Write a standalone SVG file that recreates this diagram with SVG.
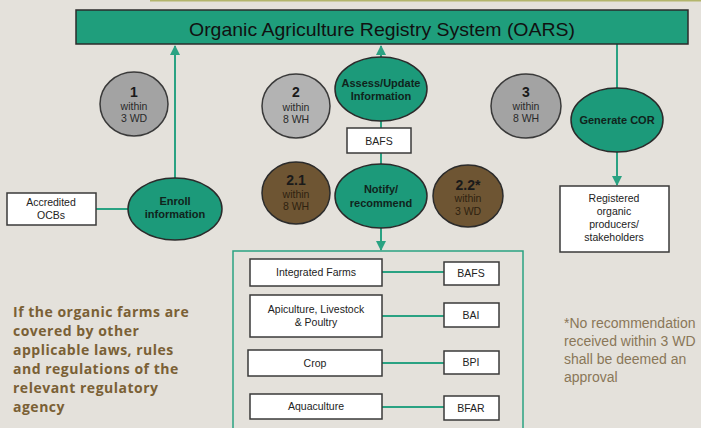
<svg xmlns="http://www.w3.org/2000/svg" width="701" height="428" viewBox="0 0 701 428">
<style>
.t{font-family:"Liberation Sans",Arial,sans-serif;text-anchor:middle}
.ell{fill:#1c9a7a;stroke:#2b2b2b;stroke-width:1.5}
.gray{fill:#a3a3a3;stroke:#3a3a3a;stroke-width:1.5}
.brown{fill:#6e5533;stroke:#2b2b2b;stroke-width:1.5}
.box{fill:#ffffff;stroke:#3a3a3a;stroke-width:1.5}
.ln{stroke:#2aa282;stroke-width:2;fill:none}
.et{font-size:11px;font-weight:bold;fill:#10241c}
.bt{font-size:10.5px;fill:#222}
.num{font-size:14px;font-weight:bold;fill:#1a1a1a}
.sm{font-size:10.5px;fill:#2a2a2a}
.bsm{font-size:10.5px;fill:#2e2210}
</style>
<defs>
<marker id="ah" viewBox="0 0 10 10" refX="9" refY="5" markerWidth="5" markerHeight="5" orient="auto">
<path d="M0,0 L10,5 L0,10 z" fill="#2aa282"/>
</marker>
</defs>
<rect width="701" height="428" fill="#e4e1db"/>
<line x1="150" y1="0.5" x2="701" y2="0.5" stroke="#b3b56c" stroke-width="2"/>

<g id="connectors">
<line class="ln" x1="175" y1="178" x2="175" y2="46" marker-end="url(#ah)"/>
<line class="ln" x1="381" y1="57" x2="381" y2="46" marker-end="url(#ah)"/>
<line class="ln" x1="381" y1="121" x2="381" y2="165"/>
<line class="ln" x1="381" y1="228" x2="381" y2="250" marker-end="url(#ah)"/>
<line class="ln" x1="617" y1="44" x2="617" y2="88"/>
<line class="ln" x1="617" y1="152" x2="617" y2="185" marker-end="url(#ah)"/>
<line class="ln" x1="96" y1="209" x2="128" y2="209"/>
<line class="ln" x1="382" y1="272" x2="444" y2="272"/>
<line class="ln" x1="382" y1="316" x2="444" y2="316"/>
<line class="ln" x1="382" y1="363" x2="444" y2="363"/>
<line class="ln" x1="382" y1="407" x2="444" y2="407"/>
</g>

<g id="oars">
<rect x="76" y="10" width="612" height="34" fill="#1f9e7c" stroke="#2b2b2b" stroke-width="1.5"/>
<text class="t" x="382" y="36" font-size="19" fill="#111" textLength="386" lengthAdjust="spacingAndGlyphs">Organic Agriculture Registry System (OARS)</text>
</g>

<g id="step1">
<ellipse class="gray" cx="134" cy="104" rx="34" ry="32"/>
<text class="t num" x="134" y="97">1</text>
<text class="t sm" x="134" y="110">within</text>
<text class="t sm" x="134" y="122">3 WD</text>
</g>

<g id="enroll">
<ellipse class="ell" cx="175" cy="209" rx="47" ry="31"/>
<text class="t et" x="175" y="205">Enroll</text>
<text class="t et" x="175" y="218">information</text>
</g>

<g id="ocbs">
<rect class="box" x="7" y="193" width="89" height="32"/>
<text class="t bt" x="51" y="206">Accredited</text>
<text class="t bt" x="51" y="219">OCBs</text>
</g>

<g id="step2">
<ellipse class="gray" cx="296" cy="106" rx="34" ry="32" style="fill:#b3b3b3"/>
<text class="t num" x="296" y="97">2</text>
<text class="t sm" x="296" y="111">within</text>
<text class="t sm" x="296" y="123">8 WH</text>
</g>

<g id="assess">
<ellipse class="ell" cx="381" cy="89" rx="46" ry="32"/>
<text class="t et" x="381" y="87">Assess/Update</text>
<text class="t et" x="381" y="100">Information</text>
</g>

<g id="bafs1">
<rect class="box" x="347" y="128" width="64" height="25"/>
<text class="t bt" x="379" y="145">BAFS</text>
</g>

<g id="notify">
<ellipse class="ell" cx="381" cy="196" rx="46" ry="32"/>
<text class="t et" x="381" y="193">Notify/</text>
<text class="t et" x="381" y="207">recommend</text>
</g>

<g id="step21">
<ellipse class="brown" cx="296" cy="193" rx="34" ry="31"/>
<text class="t num" x="296" y="185">2.1</text>
<text class="t bsm" x="296" y="198">within</text>
<text class="t bsm" x="296" y="210">8 WH</text>
</g>

<g id="step22">
<ellipse class="brown" cx="468" cy="196" rx="35" ry="31"/>
<text class="t num" x="468" y="190">2.2*</text>
<text class="t bsm" x="468" y="202">within</text>
<text class="t bsm" x="468" y="215">3 WD</text>
</g>

<g id="step3">
<ellipse class="gray" cx="526" cy="106" rx="35" ry="32"/>
<text class="t num" x="526" y="97">3</text>
<text class="t sm" x="526" y="110">within</text>
<text class="t sm" x="526" y="122">8 WH</text>
</g>

<g id="generate">
<ellipse class="ell" cx="617" cy="120" rx="46" ry="32"/>
<text class="t et" x="617" y="124">Generate COR</text>
</g>

<g id="registered">
<rect class="box" x="560" y="186" width="109" height="66"/>
<text class="t bt" x="614" y="202">Registered</text>
<text class="t bt" x="614" y="215">organic</text>
<text class="t bt" x="614" y="228">producers/</text>
<text class="t bt" x="614" y="241">stakeholders</text>
</g>

<g id="container">
<rect x="233" y="251" width="290" height="190" fill="none" stroke="#2aa282" stroke-width="1.5"/>
</g>

<g id="integrated">
<rect class="box" x="250" y="259" width="132" height="27"/>
<text class="t bt" x="316" y="276">Integrated Farms</text>
</g>
<g id="bafs2">
<rect class="box" x="444" y="262" width="55" height="23"/>
<text class="t bt" x="471" y="277">BAFS</text>
</g>
<g id="apiculture">
<rect class="box" x="250" y="295" width="132" height="42"/>
<text class="t bt" x="316" y="313">Apiculture, Livestock</text>
<text class="t bt" x="316" y="326">&amp; Poultry</text>
</g>
<g id="bai">
<rect class="box" x="444" y="303" width="55" height="24"/>
<text class="t bt" x="471" y="319">BAI</text>
</g>
<g id="crop">
<rect class="box" x="248" y="350" width="134" height="26"/>
<text class="t bt" x="315" y="367">Crop</text>
</g>
<g id="bpi">
<rect class="box" x="444" y="351" width="55" height="23"/>
<text class="t bt" x="471" y="366">BPI</text>
</g>
<g id="aquaculture">
<rect class="box" x="250" y="394" width="132" height="25"/>
<text class="t bt" x="316" y="410">Aquaculture</text>
</g>
<g id="bfar">
<rect class="box" x="444" y="396" width="55" height="24"/>
<text class="t bt" x="471" y="412">BFAR</text>
</g>

<g id="note-left" font-family="'Open Sans','DejaVu Sans',sans-serif" font-size="14" font-weight="bold" fill="#7a6035" letter-spacing="0.5" style="white-space:pre">
<text x="13" y="317">If the organic farms are</text>
<text x="13" y="336">covered by other</text>
<text x="13" y="355">applicable laws, rules</text>
<text x="13" y="374">and  regulations of the</text>
<text x="13" y="393">relevant regulatory</text>
<text x="13" y="412">agency</text>
</g>

<g id="note-right" font-family="'Liberation Sans',Arial,sans-serif" font-size="14" fill="#8a7758">
<text x="564" y="328">*No recommendation</text>
<text x="564" y="346">received within 3 WD</text>
<text x="564" y="364">shall be deemed an</text>
<text x="564" y="382">approval</text>
</g>
</svg>
